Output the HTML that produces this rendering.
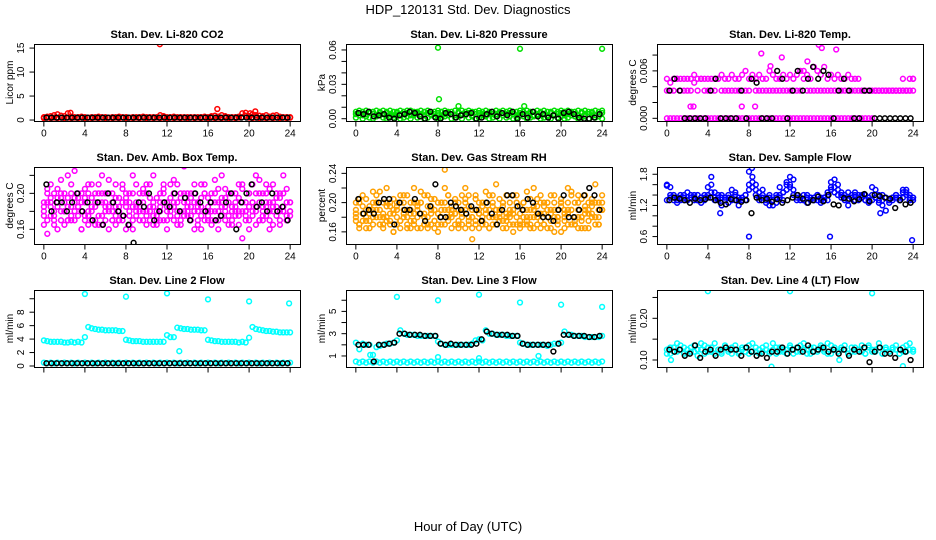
<!DOCTYPE html>
<html><head><meta charset="utf-8"><style>
html,body{margin:0;padding:0;background:#fff;}
svg{display:block;font-family:"Liberation Sans",Arial,sans-serif;}
</style></head><body>
<svg id="chart" width="936" height="540" viewBox="0 0 936 540" xmlns="http://www.w3.org/2000/svg">
<rect x="0" y="0" width="936" height="540" fill="#fff"/>
<text x="468" y="14" font-size="13" text-anchor="middle">HDP_120131  Std. Dev. Diagnostics</text>
<text x="468" y="531" font-size="13" text-anchor="middle">Hour of Day (UTC)</text>
<g id="panels"></g>
</svg>
<script>
// ---------- data ----------
const xTicks = [0,4,8,12,16,20,24];

const co2Red = [0.6,0.7,0.8,1.0,1.2,0.9,0.8,1.4,0.7,0.6,0.6,0.7,0.6,0.5,0.6,0.6,0.7,0.6,0.6,0.5,0.6,0.6,0.7,0.6,0.6,0.5,0.6,0.6,0.6,0.7,0.6,0.6,0.6,0.6,1.0,0.8,0.6,0.6,0.7,0.6,0.6,0.6,0.6,0.6,0.6,0.6,0.6,0.7,0.6,0.8,0.9,0.7,1.0,0.8,0.6,0.6,0.6,0.7,0.6,0.9,0.8,1.2,1.0,0.9,0.8,1.0,0.7,0.9,1.0,0.7,0.6,0.6,0.6];
const co2RedB = [0.4,0.5,0.4,0.5,0.4,0.5,0.4,0.5,0.4,0.5,0.4,0.5,0.4,0.5,0.4,0.5,0.4,0.5,0.4,0.5,0.4,0.5,0.4,0.5,0.4,0.5,0.4,0.5,0.4,0.5,0.4,0.5,0.4,0.5,0.4,0.5,0.4,0.5,0.4,0.5,0.4,0.5,0.4,0.5,0.4,0.5,0.4,0.5,0.4,0.5,0.4,0.5,0.4,0.5,0.4,0.5,0.4,0.5,1.4,1.5,0.5,0.4,0.5,0.4,0.5,0.4,0.5,0.4,0.5,0.4,0.5,0.4,0.5];
const co2OutHours = [11.3,16.9,2.6,20.6,20.1];
const co2OutValues = [15.8,2.3,1.5,1.8,1.4];
const co2Black = [0.5,0.5,0.5,0.5,0.5,0.5,0.5,0.5,0.5,0.5,0.5,0.5,0.5,0.5,0.5,0.5,0.5,0.5,0.5,0.5,0.5,0.5,0.5,0.5,0.5,0.5,0.5,0.5,0.5,0.5,0.5,0.5,0.5,0.5,0.5,0.5,0.5,0.5,0.5,0.5,0.5,0.5,0.5,0.5,0.5,0.5,0.5,0.5];

const presGreenA = [0.006,0.007,0.006,0.007,0.006,0.006,0.007,0.006,0.007,0.006,0.007,0.006,0.006,0.007,0.006,0.007,0.007,0.006,0.006,0.007,0.006,0.007,0.006,0.006,0.007,0.006,0.007,0.006,0.006,0.007,0.006,0.007,0.006,0.007,0.006,0.006,0.007,0.006,0.007,0.006,0.006,0.007,0.006,0.007,0.006,0.007,0.006,0.006,0.007,0.006,0.007,0.006,0.006,0.007,0.006,0.007,0.006,0.006,0.007,0.006,0.007,0.006,0.007,0.006,0.006,0.007,0.006,0.007,0.006,0.006,0.007,0.006,0.007];
const presGreenB = [0.001,0.003,0.000,0.002,0.001,0.000,0.002,0.003,0.001,0.000,0.002,0.001,0.003,0.000,0.001,0.002,0.000,0.003,0.001,0.002,0.000,0.001,0.003,0.002,0.000,0.001,0.002,0.003,0.000,0.001,0.002,0.000,0.003,0.001,0.002,0.000,0.001,0.003,0.002,0.000,0.001,0.002,0.000,0.003,0.001,0.002,0.000,0.001,0.003,0.002,0.000,0.001,0.002,0.003,0.000,0.001,0.002,0.000,0.003,0.001,0.002,0.000,0.001,0.003,0.002,0.000,0.001,0.002,0.000,0.003,0.001,0.002,0.000];
const presGreenC = [0.004,0.005,0.003,0.004,0.005,0.004,0.003,0.005,0.004,0.005,0.004,0.003,0.005,0.004,0.004,0.005,0.003,0.004,0.005,0.004,0.003,0.005,0.004,0.004,0.005,0.003,0.004,0.005,0.004,0.003,0.005,0.004,0.004,0.005,0.003,0.004,0.005,0.004,0.003,0.005,0.004,0.004,0.005,0.003,0.004,0.005,0.004,0.003,0.005,0.004,0.004,0.005,0.003,0.004,0.005,0.004,0.003,0.005,0.004,0.004,0.005,0.003,0.004,0.005,0.004,0.003,0.005,0.004,0.004,0.005,0.003,0.004,0.005];
const presOutHours = [8.0,16.0,24.0,8.1,10.0,16.4];
const presOutValues = [0.062,0.061,0.061,0.017,0.011,0.011];
const presBlack = [0.005,0.004,0.006,0.002,0.003,0.004,0.001,0.000,0.003,0.004,0.006,0.005,0.002,0.000,0.006,0.001,0.000,0.005,0.004,0.001,0.003,0.004,0.005,0.000,0.001,0.004,0.006,0.002,0.005,0.003,0.006,0.000,0.004,0.001,0.006,0.002,0.004,0.001,0.003,0.000,0.005,0.006,0.004,0.001,0.000,0.000,0.001,0.004];

const tempMagA = [0.0035,0.0035,0.0035,0.005,0.0035,0.0035,0.0035,0.0035,0.0045,0.0035,0.005,0.0035,0.0035,0.0035,0.0035,0.005,0.0035,0.0035,0.0035,0.0035,0.0035,0.0035,0.0035,0.0035,0.0035,0.005,0.0035,0.0035,0.0035,0.0035,0.0035,0.0035,0.0035,0.0035,0.0035,0.0035,0.0035,0.0035,0.0035,0.0035,0.005,0.0035,0.0035,0.0035,0.0035,0.0035,0.0035,0.0035,0.0035,0.0035,0.0035,0.0035,0.0035,0.0035,0.0035,0.0035,0.0035,0.0035,0.0035,0.0035,0.0035,0.0035,0.0035,0.0035,0.0035,0.0035,0.0035,0.0035,0.0035,0.0035,0.0035,0.005,0.005];
const tempMagB = [0,0,0,0,0,0,0,0,0,0,0,0,0,0,0,0,0,0,0,0,0,0,0,0,0,0,0,0,0,0,0,0,0,0,0,0,0,0,0,0,0,0,0,0,0,0,0,0,0,0,0,0,0,0,0,0,0,0,0,0,0,0.0035,0.0035,0.0035,0.0035,0.0035,0.0035,0.0035,0.0035,0.0035,0.0035,0.0035,0.0035];
const tempMagC = [0.005,0.0045,0.005,0.005,0.005,0.005,0.005,0.005,0.0055,0.005,0.005,0.005,0.005,0.005,0.005,0.005,0.0055,0.005,0.005,0.0055,0.005,0.005,0.0055,0.006,0.005,0.0055,0.005,0.0055,0.005,0.005,0.006,0.0055,0.005,0.005,0.0055,0.005,0.0055,0.005,0.0055,0.006,0.006,0.0055,0.005,0.0065,0.006,0.0055,0.0065,0.005,0.0055,0.005,0.0055,0.005,0.005,0.0055,0.005,0.005,0.005,0.0035,0.0035,0.0035,0.0035,0.0035,0.0035,0.0035,0.0035,0.0035,0.0035,0.0035,0.0035,0.005,0.0035,0.0035,0.005];
const tempOutHours = [14.8,15.1,16.5,9.2,10.1,11.2,13.7,2.3,2.6,7.3,8.6];
const tempOutValues = [0.0093,0.0089,0.0087,0.0082,0.0066,0.0077,0.0072,0.0015,0.0015,0.0015,0.0015];
const tempBlack = [0.0035,0.005,0.0035,0,0,0,0,0,0.0035,0.005,0,0,0,0,0.0035,0,0.005,0.0045,0,0,0,0.006,0.005,0,0.0035,0.006,0.0035,0.005,0.0065,0.005,0.006,0.0055,0,0.0035,0.005,0.0035,0,0,0.0035,0.0035,0,0,0,0,0,0,0,0];

const ambMagA = [0.19,0.17,0.21,0.18,0.16,0.20,0.19,0.22,0.17,0.18,0.20,0.16,0.19,0.21,0.18,0.17,0.20,0.22,0.19,0.16,0.18,0.21,0.17,0.19,0.20,0.18,0.16,0.21,0.19,0.17,0.20,0.18,0.22,0.17,0.19,0.21,0.16,0.18,0.20,0.19,0.17,0.23,0.18,0.20,0.16,0.19,0.21,0.18,0.17,0.20,0.19,0.16,0.22,0.18,0.20,0.17,0.19,0.21,0.15,0.18,0.20,0.19,0.22,0.17,0.18,0.21,0.16,0.19,0.20,0.18,0.22,0.17,0.19];
const ambMagB = [0.175,0.205,0.185,0.165,0.195,0.215,0.18,0.17,0.2,0.225,0.185,0.16,0.195,0.175,0.21,0.19,0.165,0.2,0.18,0.215,0.17,0.195,0.185,0.205,0.16,0.19,0.22,0.175,0.185,0.2,0.165,0.21,0.19,0.18,0.17,0.205,0.185,0.195,0.215,0.165,0.2,0.18,0.19,0.175,0.21,0.185,0.16,0.2,0.195,0.17,0.215,0.18,0.19,0.205,0.165,0.185,0.2,0.175,0.21,0.19,0.16,0.18,0.2,0.215,0.175,0.19,0.205,0.165,0.185,0.2,0.18,0.17,0.19];
const ambMagC = [0.185,0.155,0.195,0.175,0.19,0.18,0.2,0.17,0.185,0.195,0.175,0.19,0.17,0.2,0.185,0.165,0.19,0.175,0.2,0.185,0.17,0.165,0.195,0.175,0.185,0.2,0.17,0.19,0.18,0.205,0.175,0.185,0.165,0.195,0.18,0.17,0.19,0.175,0.185,0.21,0.18,0.19,0.175,0.195,0.18,0.17,0.185,0.2,0.175,0.19,0.18,0.17,0.195,0.185,0.175,0.2,0.18,0.165,0.19,0.18,0.2,0.175,0.185,0.19,0.17,0.2,0.18,0.185,0.175,0.195,0.18,0.19,0.175];
const ambMagD = [0.18,0.19,0.175,0.2,0.185,0.17,0.18,0.195,0.175,0.19,0.185,0.2,0.175,0.18,0.195,0.185,0.175,0.19,0.17,0.18,0.2,0.185,0.18,0.17,0.19,0.175,0.185,0.18,0.2,0.19,0.18,0.17,0.185,0.175,0.2,0.19,0.18,0.185,0.17,0.18,0.195,0.175,0.2,0.185,0.19,0.18,0.175,0.17,0.185,0.18,0.2,0.19,0.175,0.17,0.19,0.18,0.185,0.195,0.18,0.175,0.17,0.19,0.18,0.2,0.185,0.175,0.19,0.18,0.2,0.17,0.185,0.175,0.18];
const ambMagE = [0.165,0.2,0.19,0.17,0.205,0.195,0.165,0.185,0.21,0.17,0.195,0.18,0.205,0.165,0.17,0.2,0.21,0.165,0.185,0.2,0.19,0.175,0.17,0.21,0.195,0.165,0.2,0.185,0.17,0.18,0.21,0.195,0.175,0.165,0.185,0.2,0.17,0.21,0.19,0.175,0.165,0.2,0.185,0.17,0.2,0.165,0.195,0.21,0.18,0.165,0.17,0.205,0.185,0.195,0.2,0.165,0.175,0.18,0.205,0.17,0.185,0.21,0.165,0.17,0.2,0.185,0.17,0.21,0.195,0.165,0.2,0.205,0.18];
const ambBlack = [0.21,0.18,0.19,0.19,0.18,0.19,0.2,0.18,0.19,0.17,0.19,0.165,0.2,0.19,0.18,0.175,0.165,0.145,0.19,0.185,0.2,0.17,0.18,0.19,0.185,0.2,0.18,0.195,0.17,0.2,0.19,0.18,0.19,0.17,0.175,0.19,0.2,0.16,0.19,0.2,0.21,0.185,0.19,0.18,0.2,0.18,0.185,0.17];

const rhOrangeA = [0.19,0.17,0.21,0.18,0.165,0.2,0.19,0.215,0.17,0.18,0.2,0.16,0.19,0.21,0.18,0.17,0.2,0.22,0.19,0.165,0.18,0.21,0.17,0.19,0.2,0.18,0.245,0.21,0.19,0.17,0.2,0.18,0.22,0.17,0.19,0.21,0.165,0.18,0.2,0.19,0.17,0.225,0.18,0.2,0.165,0.19,0.21,0.18,0.17,0.2,0.19,0.165,0.22,0.18,0.2,0.17,0.19,0.21,0.16,0.18,0.2,0.19,0.22,0.17,0.18,0.21,0.165,0.19,0.2,0.18,0.225,0.17,0.19];
const rhOrangeB = [0.175,0.205,0.185,0.165,0.195,0.215,0.18,0.17,0.2,0.22,0.185,0.16,0.195,0.175,0.21,0.19,0.165,0.2,0.18,0.215,0.17,0.195,0.185,0.205,0.16,0.19,0.22,0.175,0.185,0.2,0.165,0.21,0.19,0.18,0.15,0.205,0.185,0.195,0.215,0.165,0.2,0.18,0.19,0.175,0.21,0.185,0.16,0.2,0.195,0.17,0.215,0.18,0.19,0.205,0.165,0.185,0.2,0.175,0.21,0.19,0.16,0.18,0.2,0.215,0.175,0.19,0.205,0.165,0.185,0.2,0.18,0.17,0.19];
const rhOrangeC = [0.185,0.17,0.195,0.175,0.19,0.18,0.2,0.17,0.185,0.195,0.175,0.19,0.17,0.2,0.185,0.165,0.19,0.175,0.2,0.185,0.17,0.165,0.195,0.175,0.185,0.2,0.17,0.19,0.18,0.205,0.175,0.185,0.165,0.195,0.18,0.17,0.19,0.175,0.185,0.21,0.18,0.19,0.175,0.195,0.18,0.17,0.185,0.2,0.175,0.19,0.18,0.17,0.195,0.185,0.175,0.2,0.18,0.165,0.19,0.18,0.2,0.175,0.185,0.19,0.17,0.2,0.18,0.185,0.175,0.195,0.18,0.19,0.2];
const rhOrangeD = [0.18,0.2,0.175,0.19,0.185,0.17,0.2,0.19,0.18,0.175,0.195,0.185,0.2,0.175,0.19,0.18,0.185,0.17,0.195,0.2,0.185,0.18,0.19,0.175,0.17,0.2,0.19,0.18,0.195,0.185,0.17,0.19,0.2,0.175,0.18,0.19,0.185,0.2,0.17,0.18,0.195,0.19,0.185,0.2,0.175,0.18,0.19,0.17,0.185,0.2,0.175,0.19,0.18,0.195,0.185,0.17,0.2,0.19,0.18,0.175,0.195,0.185,0.17,0.19,0.2,0.18,0.175,0.195,0.19,0.185,0.2,0.18,0.19];
const rhOrangeE = [0.2,0.165,0.185,0.205,0.175,0.19,0.21,0.18,0.165,0.2,0.17,0.205,0.18,0.165,0.2,0.21,0.175,0.185,0.165,0.2,0.21,0.17,0.205,0.165,0.185,0.17,0.2,0.21,0.165,0.185,0.19,0.17,0.205,0.21,0.165,0.175,0.2,0.17,0.19,0.165,0.21,0.17,0.205,0.165,0.185,0.2,0.17,0.21,0.165,0.18,0.17,0.205,0.165,0.17,0.21,0.195,0.165,0.185,0.2,0.17,0.205,0.165,0.19,0.21,0.17,0.165,0.18,0.21,0.165,0.205,0.17,0.2,0.21];
const rhBlack = [0.205,0.185,0.19,0.185,0.2,0.205,0.205,0.17,0.2,0.19,0.19,0.205,0.185,0.175,0.195,0.225,0.18,0.18,0.2,0.195,0.19,0.185,0.195,0.19,0.175,0.2,0.185,0.17,0.19,0.21,0.21,0.195,0.19,0.205,0.2,0.185,0.18,0.18,0.175,0.19,0.21,0.18,0.18,0.19,0.21,0.22,0.21,0.19];

const flowBlueA = [1.6,1.55,1.3,1.35,1.4,1.3,1.45,1.35,1.3,1.4,1.35,1.3,1.55,1.75,1.45,1.3,1.2,1.35,1.4,1.5,1.45,1.3,1.35,1.4,1.85,1.65,1.6,1.45,1.5,1.35,1.4,1.2,1.25,1.55,1.3,1.6,1.75,1.7,1.35,1.3,1.4,1.35,1.3,1.35,1.4,1.3,1.35,1.45,1.55,1.7,1.6,1.45,1.3,1.2,1.4,1.45,1.35,1.4,1.3,1.35,1.55,1.5,1.25,1.2,1.1,1.3,1.35,1.4,1.35,1.5,1.45,1.4,1.35];
const flowBlueB = [1.3,1.4,1.35,1.25,1.3,1.35,1.3,1.4,1.35,1.3,1.25,1.35,1.4,1.45,1.3,1.4,1.35,1.3,1.25,1.35,1.3,1.2,1.35,1.3,1.5,1.55,1.4,1.3,1.35,1.25,1.2,1.3,1.35,1.4,1.45,1.5,1.55,1.4,1.3,1.35,1.3,1.25,1.35,1.3,1.3,1.25,1.35,1.3,1.5,1.45,1.4,1.35,1.4,1.3,1.35,1.3,1.4,1.35,1.3,1.25,1.3,1.35,1.4,1.3,1.35,1.25,1.3,1.35,1.3,1.35,1.4,1.3,1.35];
const flowBlueC = [1.58,1.35,1.4,1.3,1.35,1.4,1.3,1.35,1.4,1.3,1.35,1.4,1.35,1.6,1.35,1.35,1.4,1.3,1.35,1.3,1.4,1.35,1.3,1.4,1.6,1.75,1.5,1.35,1.4,1.3,1.35,1.3,1.4,1.35,1.45,1.65,1.6,1.5,1.4,1.35,1.3,1.4,1.35,1.3,1.4,1.35,1.3,1.4,1.65,1.55,1.5,1.4,1.35,1.45,1.35,1.4,1.3,1.35,1.4,1.3,1.4,1.35,1.3,1.4,1.35,1.3,1.35,1.4,1.3,1.45,1.5,1.35,1.3];
const flowOutHours = [8.0,15.9,23.9,5.2,8.3,20.8];
const flowOutValues = [0.6,0.6,0.53,1.05,1.92,1.05];
const flowBlack = [1.3,1.35,1.33,1.3,1.25,1.33,1.3,1.32,1.35,1.3,1.25,1.22,1.32,1.3,1.27,1.3,1.05,1.35,1.3,1.33,1.27,1.32,1.25,1.3,1.35,1.4,1.33,1.25,1.3,1.37,1.28,1.4,1.22,1.2,1.34,1.33,1.28,1.32,1.42,1.28,1.4,1.38,1.35,1.33,1.15,1.3,1.22,1.25];

const line2CyanA = [0.5,0.4,0.5,0.4,0.5,0.4,0.5,0.4,0.5,0.4,0.5,0.4,0.5,0.4,0.5,0.4,0.5,0.4,0.5,0.4,0.5,0.4,0.5,0.4,0.5,0.4,0.5,0.4,0.5,0.4,0.5,0.4,0.5,0.4,0.5,0.4,0.5,0.4,0.5,0.4,0.5,0.4,0.5,0.4,0.5,0.4,0.5,0.4,0.5,0.4,0.5,0.4,0.5,0.4,0.5,0.4,0.5,0.4,0.5,0.4,0.5,0.4,0.5,0.4,0.5,0.4,0.5,0.4,0.5,0.4,0.5,0.4,0.5];
const line2CyanB = [3.8,3.7,3.6,3.6,3.6,3.6,3.5,3.5,3.6,3.5,3.6,3.5,4.3,5.8,5.6,5.5,5.4,5.4,5.3,5.3,5.3,5.3,5.2,5.2,3.9,3.8,3.7,3.7,3.7,3.6,3.6,3.6,3.6,3.6,3.6,3.6,4.6,4.3,4.3,5.7,5.6,5.5,5.5,5.4,5.4,5.4,5.3,5.3,3.9,3.8,3.7,3.7,3.6,3.6,3.6,3.6,3.6,3.5,3.6,3.5,4.2,5.8,5.5,5.4,5.3,5.2,5.2,5.1,5.1,5.0,5.0,5.0,5.0];
const line2OutHours = [4.0,8.0,12.0,16.0,20.0,23.9,13.2];
const line2OutValues = [10.7,10.3,10.8,9.9,9.6,9.3,2.2];
const line2Black = [0.4,0.4,0.4,0.4,0.4,0.4,0.4,0.4,0.4,0.4,0.4,0.4,0.4,0.4,0.4,0.4,0.4,0.4,0.4,0.4,0.4,0.4,0.4,0.4,0.4,0.4,0.4,0.4,0.4,0.4,0.4,0.4,0.4,0.4,0.4,0.4,0.4,0.4,0.4,0.4,0.4,0.4,0.4,0.4,0.4,0.4,0.4,0.4];

const line3CyanA = [0.5,0.4,0.5,0.4,0.5,0.4,0.5,0.4,0.5,0.4,0.5,0.4,0.5,0.4,0.5,0.4,0.5,0.4,0.5,0.4,0.5,0.4,0.5,0.4,0.5,0.4,0.5,0.4,0.5,0.4,0.5,0.4,0.5,0.4,0.5,0.4,0.5,0.4,0.5,0.4,0.5,0.4,0.5,0.4,0.5,0.4,0.5,0.4,0.5,0.4,0.5,0.4,0.5,0.4,0.5,0.4,0.5,0.4,0.5,0.4,0.5,0.4,0.5,0.4,0.5,0.4,0.5,0.4,0.5,0.4,0.5,0.4,0.5];
const line3CyanB = [2.2,1.6,2.1,2.0,2.0,1.1,1.8,1.9,2.0,2.1,2.1,2.2,2.4,3.3,3.0,2.9,2.9,2.9,2.8,2.8,2.8,2.8,2.8,2.8,2.3,2.1,2.0,2.0,2.0,2.0,2.0,2.0,2.0,2.0,2.1,2.4,2.5,2.4,3.3,3.0,3.0,2.9,2.9,2.9,2.8,2.8,2.8,2.8,2.2,2.1,2.0,2.0,2.0,2.0,2.0,2.0,1.9,2.0,2.1,2.1,2.2,3.2,2.9,2.9,2.8,2.8,2.8,2.7,2.7,2.7,2.7,2.7,2.8];
const line3OutHours = [4.0,8.0,12.0,16.0,20.0,24.0,8.0,12.0,17.8,1.4];
const line3OutValues = [6.3,6.0,6.5,5.8,5.6,5.4,0.9,0.8,1.0,1.1];
const line3Black = [2.0,2.0,2.0,0.5,2.0,2.0,2.1,2.2,3.0,3.0,2.9,2.9,2.9,2.8,2.8,2.8,2.1,2.0,2.1,2.0,2.0,2.0,2.0,2.1,2.5,3.2,3.0,2.9,2.9,2.9,2.8,2.8,2.1,2.0,2.0,2.0,2.0,2.0,1.4,2.1,2.9,2.9,2.8,2.8,2.8,2.7,2.7,2.8];

const line4CyanA = [0.125,0.115,0.13,0.12,0.135,0.115,0.125,0.13,0.12,0.11,0.125,0.135,0.12,0.13,0.115,0.125,0.12,0.13,0.125,0.115,0.135,0.12,0.125,0.13,0.115,0.12,0.13,0.125,0.12,0.135,0.115,0.125,0.13,0.12,0.125,0.115,0.13,0.125,0.12,0.135,0.125,0.115,0.13,0.12,0.125,0.13,0.12,0.115,0.135,0.125,0.12,0.13,0.125,0.115,0.12,0.13,0.125,0.12,0.115,0.135,0.125,0.12,0.13,0.115,0.125,0.12,0.13,0.125,0.115,0.12,0.135,0.125,0.12];
const line4CyanB = [0.115,0.13,0.12,0.14,0.125,0.13,0.115,0.12,0.135,0.125,0.14,0.115,0.13,0.12,0.14,0.125,0.115,0.135,0.12,0.13,0.125,0.115,0.13,0.12,0.135,0.14,0.12,0.115,0.13,0.125,0.12,0.14,0.115,0.13,0.12,0.125,0.135,0.115,0.13,0.12,0.14,0.125,0.115,0.13,0.12,0.135,0.125,0.14,0.115,0.13,0.12,0.125,0.135,0.115,0.13,0.12,0.125,0.135,0.115,0.13,0.12,0.125,0.14,0.115,0.13,0.12,0.125,0.135,0.115,0.13,0.12,0.14,0.125];
const line4OutHours = [4.0,12.0,20.0,10.2,23.0,0.4,16.8];
const line4OutValues = [0.265,0.265,0.26,0.084,0.085,0.1,0.1];
const line4Black = [0.125,0.12,0.125,0.11,0.115,0.135,0.105,0.12,0.125,0.11,0.125,0.13,0.125,0.125,0.11,0.13,0.12,0.11,0.115,0.105,0.12,0.12,0.13,0.115,0.125,0.13,0.12,0.135,0.12,0.125,0.13,0.12,0.125,0.115,0.125,0.11,0.125,0.12,0.13,0.095,0.12,0.13,0.115,0.115,0.105,0.125,0.12,0.1];

// ---------- layout ----------
const panels = [
 {name:'co2', title:'Stan. Dev. Li-820 CO2', ylab:'Licor ppm', col:0,row:0, ymin:-0.2, ymax:15.85, ticks:[0,5,10,15], labels:['0','5','10','15'], color:'#ff0000', clouds:[co2RedB,co2Red], outH:co2OutHours, outV:co2OutValues, black:co2Black},
 {name:'pressure', title:'Stan. Dev. Li-820 Pressure', ylab:'kPa', col:1,row:0, ymin:-0.002, ymax:0.0652, ticks:[0,0.01,0.02,0.03,0.04,0.05,0.06], labels:['0.00','','','0.03','','','0.06'], color:'#00e000', clouds:[presGreenB,presGreenC,presGreenA], outH:presOutHours, outV:presOutValues, black:presBlack},
 {name:'temp', title:'Stan. Dev. Li-820 Temp.', ylab:'degrees C', col:2,row:0, ymin:-0.00034, ymax:0.0094, ticks:[0,0.002,0.004,0.006,0.008], labels:['0.000','','','0.006',''], color:'#ff00ff', clouds:[tempMagB,tempMagA,tempMagC], outH:tempOutHours, outV:tempOutValues, black:tempBlack},
 {name:'amb-box-temp', title:'Stan. Dev. Amb. Box Temp.', ylab:'degrees C', col:0,row:1, ymin:0.1437, ymax:0.2293, ticks:[0.16,0.18,0.2,0.22], labels:['0.16','','0.20',''], color:'#ff00ff', clouds:[ambMagA,ambMagB,ambMagC,ambMagD,ambMagE], outH:[], outV:[], black:ambBlack},
 {name:'gas-stream-rh', title:'Stan. Dev. Gas Stream RH', ylab:'percent', col:1,row:1, ymin:0.1434, ymax:0.2487, ticks:[0.16,0.18,0.2,0.22,0.24], labels:['0.16','','0.20','','0.24'], color:'#ffa000', clouds:[rhOrangeA,rhOrangeB,rhOrangeC,rhOrangeD,rhOrangeE], outH:[], outV:[], black:rhBlack},
 {name:'sample-flow', title:'Stan. Dev. Sample Flow', ylab:'ml/min', col:2,row:1, ymin:0.457, ymax:1.94, ticks:[0.6,0.8,1.0,1.2,1.4,1.6,1.8], labels:['0.6','','','1.2','','','1.8'], color:'#0000ff', clouds:[flowBlueB,flowBlueC,flowBlueA], outH:flowOutHours, outV:flowOutValues, black:flowBlack},
 {name:'line2-flow', title:'Stan. Dev. Line 2 Flow', ylab:'ml/min', col:0,row:2, ymin:-0.15, ymax:11.3, ticks:[0,2,4,6,8,10], labels:['0','2','4','6','8',''], color:'#00ffff', clouds:[line2CyanA,line2CyanB], outH:line2OutHours, outV:line2OutValues, black:line2Black},
 {name:'line3-flow', title:'Stan. Dev. Line 3 Flow', ylab:'ml/min', col:1,row:2, ymin:0.01, ymax:6.92, ticks:[1,2,3,4,5,6], labels:['1','','3','','5',''], color:'#00ffff', clouds:[line3CyanA,line3CyanB], outH:line3OutHours, outV:line3OutValues, black:line3Black},
 {name:'line4-flow', title:'Stan. Dev. Line 4 (LT) Flow', ylab:'ml/min', col:2,row:2, ymin:0.0832, ymax:0.2679, ticks:[0.1,0.15,0.2,0.25], labels:['0.10','','0.20',''], color:'#00ffff', clouds:[line4CyanA,line4CyanB], outH:line4OutHours, outV:line4OutValues, black:line4Black}
];
const colX = [34,346,657], rowY = [44,167,290], PW = 266, PH = 77;
const NS = 'http://www.w3.org/2000/svg';
const root = document.getElementById('panels');

function mk(tag, attrs, parent){ const e=document.createElementNS(NS,tag); for(const k in attrs) e.setAttribute(k,attrs[k]); parent.appendChild(e); return e; }
function xScale(p,h){ return p.x0 + (h + 0.96) / 25.92 * PW; }
function yScale(p,v){ return p.y0 + PH - (v - p.ymin) / (p.ymax - p.ymin) * PH; }
function pt(g,p,h,v,color,name){
  const c = mk('circle',{cx:xScale(p,h).toFixed(1), cy:yScale(p,v).toFixed(1), r:2.4, fill:'none', stroke:color, 'stroke-width':1.5}, g);
  
  
}

panels.forEach(p => {
  p.x0 = colX[p.col]; p.y0 = rowY[p.row];
  const g = mk('g',{}, root);
  
  
  const t = mk('text',{x:p.x0+PW/2, y:p.y0-6, 'font-size':11, 'font-weight':'bold', 'text-anchor':'middle'}, g);
  t.textContent = p.title;
  
  
  const cp = mk('clipPath',{id:'clip-'+p.name}, g);
  mk('rect',{x:p.x0, y:p.y0, width:PW, height:PH}, cp);
  const pg = mk('g',{'clip-path':'url(#clip-'+p.name+')'}, g);
  
  
  p.clouds.forEach(arr => {
    arr.forEach((v,i) => pt(pg, p, 24*i/(arr.length-1), v, p.color, p.name+'-point'));
  });
  p.outH.forEach((h,i) => pt(pg, p, h, p.outV[i], p.color, p.name+'-outlier'));
  p.black.forEach((v,i) => pt(pg, p, 24*(i+0.5)/p.black.length, v, '#000', p.name+'-black-point'));
  const box = mk('rect',{x:p.x0+0.5, y:p.y0+0.5, width:PW, height:PH, fill:'none', stroke:'#000', 'stroke-width':1}, g);
  
  
  const xb = p.y0 + PH + 0.5;
  mk('line',{x1:xScale(p,xTicks[0]), x2:xScale(p,xTicks[xTicks.length-1]), y1:xb, y2:xb, stroke:'#000'}, g);
  xTicks.forEach(h => {
    const x = xScale(p,h);
    mk('line',{x1:x, x2:x, y1:xb, y2:xb+5, stroke:'#000'}, g);
    if (p.row < 2) {
      const l = mk('text',{x:x, y:xb+15, 'font-size':10, 'text-anchor':'middle'}, g);
      l.textContent = String(h);
      
      
    }
  });
  const yl = p.x0 + 0.5;
  mk('line',{x1:yl, x2:yl, y1:yScale(p,p.ticks[0]), y2:yScale(p,p.ticks[p.ticks.length-1]), stroke:'#000'}, g);
  p.ticks.forEach((v,i) => {
    const y = yScale(p,v);
    mk('line',{x1:yl-5, x2:yl, y1:y, y2:y, stroke:'#000'}, g);
    if (p.labels[i]) {
      const l = mk('text',{x:0, y:0, 'font-size':10, 'text-anchor':'middle', transform:'translate('+(p.x0-10)+','+y.toFixed(1)+') rotate(-90)'}, g);
      l.textContent = p.labels[i];
      
      
    }
  });
  const yt = mk('text',{x:0, y:0, 'font-size':10, 'text-anchor':'middle', transform:'translate('+(p.x0-21)+','+(p.y0+PH/2)+') rotate(-90)'}, g);
  yt.textContent = p.ylab;
  
  
});
</script>
</body></html>
